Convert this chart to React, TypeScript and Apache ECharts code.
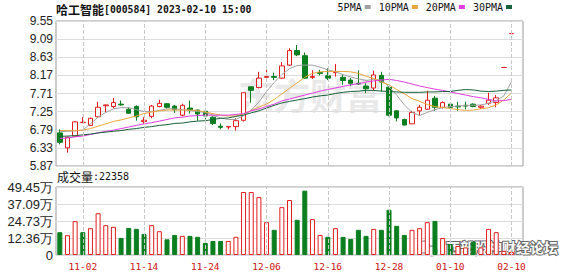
import React, { useEffect, useRef } from 'react';
import * as echarts from 'echarts';

// ---------- data ----------
const dates = [
  '2022-10-28','2022-10-31','2022-11-01','2022-11-02','2022-11-03','2022-11-04','2022-11-07','2022-11-08','2022-11-09','2022-11-10',
  '2022-11-11','2022-11-14','2022-11-15','2022-11-16','2022-11-17','2022-11-18','2022-11-21','2022-11-22','2022-11-23','2022-11-24',
  '2022-11-25','2022-11-28','2022-11-29','2022-11-30','2022-12-01','2022-12-02','2022-12-05','2022-12-06','2022-12-07','2022-12-08',
  '2022-12-09','2022-12-12','2022-12-13','2022-12-14','2022-12-15','2022-12-16','2022-12-19','2022-12-20','2022-12-21','2022-12-22',
  '2022-12-23','2022-12-26','2022-12-27','2022-12-28','2022-12-29','2022-12-30','2023-01-03','2023-01-04','2023-01-05','2023-01-06',
  '2023-01-09','2023-01-10','2023-01-11','2023-01-12','2023-01-13','2023-01-16','2023-01-17','2023-01-18','2023-02-09','2023-02-10',
];

const opens = [
  6.71,6.33,6.63,6.97,6.90,7.12,7.40,7.38,7.44,7.31,
  7.38,7.00,7.13,7.38,7.45,7.39,7.16,7.34,7.29,7.26,
  7.11,6.88,6.86,6.87,7.03,7.88,7.86,8.12,8.14,8.10,
  8.43,8.80,8.67,8.12,8.24,8.16,8.24,8.12,8.05,7.97,
  7.90,7.85,8.17,7.87,7.27,7.05,6.94,7.27,7.31,7.59,
  7.36,7.44,7.39,7.41,7.44,7.36,7.46,7.48,8.37,9.23,
];
const closes = [
  6.47,6.60,6.99,6.98,7.08,7.36,7.42,7.48,7.42,7.21,
  7.12,7.03,7.39,7.46,7.36,7.30,7.41,7.29,7.19,7.14,
  6.95,6.85,6.87,7.02,7.73,7.79,8.10,8.14,8.12,8.41,
  8.80,8.69,8.10,8.14,8.22,8.10,8.26,8.04,7.97,7.95,
  7.83,8.18,8.00,7.16,7.09,6.91,7.23,7.36,7.54,7.36,
  7.48,7.36,7.37,7.39,7.38,7.39,7.54,7.60,8.37,9.23,
];
const lows = [
  6.42,6.21,6.62,6.96,6.89,7.10,7.23,7.33,7.40,7.19,
  7.02,6.94,7.08,7.36,7.33,7.22,7.13,7.20,7.02,7.05,
  6.91,6.80,6.80,6.77,7.00,7.48,7.84,8.04,8.05,8.08,
  8.41,8.66,8.08,8.08,8.17,8.05,8.14,7.93,7.90,7.93,
  7.72,7.78,7.76,7.13,7.00,6.90,6.93,7.16,7.29,7.27,
  7.33,7.32,7.27,7.31,7.36,7.32,7.42,7.36,8.37,9.23,
];
const highs = [
  6.80,6.62,7.01,7.11,7.10,7.50,7.43,7.60,7.53,7.36,
  7.41,7.11,7.42,7.55,7.47,7.42,7.45,7.53,7.30,7.28,
  7.13,6.95,6.87,7.08,7.74,7.88,8.26,8.32,8.24,8.51,
  8.86,8.94,8.75,8.30,8.31,8.35,8.46,8.20,8.10,8.30,
  7.97,8.29,8.26,7.90,7.29,7.07,7.27,7.42,7.78,7.65,
  7.51,7.48,7.50,7.50,7.46,7.42,7.73,7.67,8.37,9.23,
];
// volume in 万
const volumes = [
  16.6,14.4,24.6,16.6,19.5,30.4,21.7,20.5,12.4,19.7,
  19.0,15.3,21.7,17.3,11.4,14.6,13.9,13.9,13.2,8.8,
  10.2,10.2,10.2,13.2,45.8,45.8,42.1,23.9,18.3,34.8,
  40.0,25.6,46.8,26.1,14.6,13.2,19.5,13.2,11.7,18.3,
  13.9,19.0,18.3,32.9,21.2,14.6,18.3,19.5,23.9,24.8,
  12.4,8.0,6.5,5.5,9.7,5.5,19.0,16.6,3.0,2.2358,
];
const ma5 = [
  6.74,6.75,6.76,6.78,6.94,7.11,7.23,7.32,7.35,7.35,
  7.30,7.25,7.25,7.28,7.32,7.32,7.30,7.28,7.25,7.23,
  7.16,7.09,7.05,7.05,7.15,7.29,7.49,7.76,7.99,8.19,
  8.34,8.42,8.43,8.43,8.38,8.31,8.26,8.19,8.13,8.08,
  8.04,8.07,8.05,7.88,7.67,7.42,7.23,7.15,7.23,7.30,
  7.35,7.38,7.39,7.41,7.41,7.42,7.46,7.53,7.65,8.01,
];
const ma10 = [
  6.77,6.77,6.77,6.78,6.82,6.88,6.94,7.00,7.04,7.09,
  7.14,7.20,7.24,7.27,7.29,7.29,7.29,7.29,7.28,7.24,
  7.20,7.16,7.14,7.14,7.19,7.27,7.37,7.44,7.56,7.70,
  7.84,7.98,8.12,8.22,8.26,8.27,8.27,8.27,8.26,8.22,
  8.15,8.09,8.00,7.93,7.81,7.70,7.58,7.51,7.43,7.38,
  7.35,7.33,7.30,7.28,7.29,7.32,7.35,7.42,7.55,7.72,
];
const ma20 = [
  6.57,6.58,6.61,6.63,6.67,6.71,6.75,6.78,6.82,6.86,
  6.90,6.94,6.97,7.01,7.05,7.09,7.11,7.14,7.15,7.16,
  7.16,7.16,7.16,7.18,7.20,7.27,7.32,7.38,7.44,7.52,
  7.57,7.62,7.67,7.72,7.77,7.81,7.85,7.89,7.93,7.96,
  8.00,8.03,8.05,8.07,8.04,8.00,7.95,7.90,7.86,7.82,
  7.79,7.75,7.71,7.67,7.63,7.60,7.56,7.52,7.53,7.56,
];
const ma30 = [
  6.62,6.63,6.64,6.66,6.68,6.71,6.73,6.75,6.77,6.80,
  6.82,6.85,6.87,6.90,6.92,6.95,6.96,6.99,7.01,7.02,
  7.05,7.08,7.09,7.13,7.16,7.22,7.27,7.34,7.41,7.47,
  7.51,7.545,7.58,7.62,7.65,7.67,7.71,7.74,7.76,7.77,
  7.79,7.79,7.77,7.76,7.75,7.74,7.74,7.74,7.75,7.75,
  7.76,7.76,7.79,7.81,7.80,7.77,7.76,7.77,7.79,7.80,
];

const priceTickLabels = ['5.87','6.33','6.79','7.25','7.71','8.17','8.63','9.09','9.55'];
const volumeTickLabels = ['0','12.36万','24.73万','37.09万','49.45万'];
const dateTickLabels = ['11-02','11-14','11-24','12-06','12-16','12-28','01-10','02-10'];
const stockTitle = '哈工智能';
const stockCode = '[000584] 2023-02-10 15:00';
const volumeLabel = '成交量';
const lastVolume = '22358';

// ---------- styles ----------
const RED = '#e41c1c';
const GREEN = '#0b7f1f';
const MA_COLORS = ['#a0a0a0', '#e9a63a', '#e03ce0', '#17603a'];
const MONO = '"DejaVu Sans Mono", monospace';
const CJK = '"Noto Sans CJK SC", sans-serif';
const SANS = '"Liberation Sans", Arial, sans-serif';

export default function App() {
  const ref = useRef<HTMLDivElement>(null);

  useEffect(() => {
    if (!ref.current) return;
    const chart = echarts.init(ref.current, undefined, { renderer: 'svg' });

    const axisData = [...dates, ''];
    const isTick = (d: string) => dateTickLabels.includes(d.slice(5));
    const tickDates = dates.filter(isTick);

    const candleData = opens.map((o, i) => [o, closes[i], lows[i], highs[i]]);
    const volData = volumes.map((v, i) => {
      const up = i === 0 ? closes[i] >= opens[i] : closes[i] >= closes[i - 1];
      return {
        value: v,
        itemStyle: up
          ? { color: '#ffffff', borderColor: RED, borderWidth: 1 }
          : { color: GREEN, borderColor: GREEN, borderWidth: 1 },
      };
    });

    const vLines = {
      silent: true,
      symbol: ['none', 'none'],
      label: { show: false },
      lineStyle: { color: '#c8c8c8', type: 'dashed', width: 1 },
      data: tickDates.map((d) => ({ xAxis: d })),
    };

    const findLabel = (labels: string[], v: number) =>
      labels.find((l) => Math.abs(parseFloat(l) - v) < 0.01) ?? '';

    const maNames = ['5PMA', '10PMA', '20PMA', '30PMA'];
    const maData = [ma5, ma10, ma20, ma30];

    const option: any = {
      animation: false,
      backgroundColor: '#ffffff',
      title: {
        text: `{a|${stockTitle}}{b|${stockCode}}`,
        left: 56,
        top: 1,
        padding: 0,
        textStyle: {
          rich: {
            a: { fontSize: 12, fontFamily: CJK, color: '#111', lineHeight: 16 },
            b: { fontSize: 9.8, fontFamily: MONO, color: '#111', lineHeight: 16 },
          },
        },
      },
      legend: {
        data: maNames,
        right: 66,
        top: 2,
        align: 'right',
        icon: 'rect',
        itemWidth: 6,
        itemHeight: 4,
        itemGap: 8,
        selectedMode: false,
        padding: 0,
        textStyle: { fontFamily: MONO, fontSize: 10, color: '#111', padding: [0, -2, 0, 0] },
      },
      grid: [
        { left: 56, top: 21, width: 467, height: 145, show: true, borderColor: '#9a9a9a', borderWidth: 1 },
        { left: 56, top: 187, width: 467, height: 68, show: true, borderColor: '#9a9a9a', borderWidth: 1 },
      ],
      xAxis: [
        {
          type: 'category', gridIndex: 0, data: axisData, boundaryGap: true,
          axisLine: { show: false }, axisTick: { show: false }, axisLabel: { show: false }, splitLine: { show: false },
        },
        {
          type: 'category', gridIndex: 1, data: axisData, boundaryGap: true,
          axisLine: { show: false }, axisTick: { show: false }, splitLine: { show: false },
          axisLabel: {
            interval: (_i: number, v: string) => isTick(v),
            formatter: (v: string) => v.slice(5),
            color: '#cc1111', fontFamily: MONO, fontSize: 9.5, margin: 6,
          },
        },
      ],
      yAxis: [
        {
          type: 'value', gridIndex: 0, min: 5.87, max: 9.55, interval: 0.46,
          axisLine: { show: false }, axisTick: { show: false },
          splitLine: { show: true, lineStyle: { color: '#dcdcdc', width: 1 } },
          axisLabel: {
            formatter: (v: number) => findLabel(priceTickLabels, v),
            fontFamily: SANS, fontSize: 12, color: '#222', margin: 3,
          },
        },
        {
          type: 'value', gridIndex: 1, min: 0, max: 49.45, interval: 12.3625,
          axisLine: { show: false }, axisTick: { show: false },
          splitLine: { show: true, lineStyle: { color: '#dcdcdc', width: 1 } },
          axisLabel: {
            formatter: (v: number) => findLabel(volumeTickLabels, v),
            fontFamily: SANS, fontSize: 13, color: '#222', margin: 3,
          },
        },
      ],
      graphic: [
        {
          type: 'text', z: -10, left: 238, top: 76, silent: true,
          style: { text: '东方财富', fontSize: 36, fontWeight: 'bold', fontFamily: CJK, fill: '#e9e9e9' },
        },
        {
          type: 'text', left: 57, top: 170, silent: true,
          style: {
            text: `{a|${volumeLabel}}{b|:${lastVolume}}`,
            rich: {
              a: { fontSize: 12, fontFamily: CJK, fill: '#111', lineHeight: 16 },
              b: { fontSize: 10, fontFamily: MONO, fill: '#111', lineHeight: 16 },
            },
          },
        },
        {
          type: 'group', z: 100, silent: true,
          children: [
            { type: 'circle', shape: { cx: 424, cy: 247, r: 6 }, style: { fill: '#fff', stroke: '#777', lineWidth: 1 } },
            { type: 'circle', shape: { cx: 432, cy: 251, r: 5 }, style: { fill: '#fff', stroke: '#777', lineWidth: 1 } },
            {
              type: 'text', x: 446, y: 240,
              style: {
                text: '西部股神财经论坛', fontSize: 14, fontWeight: 'bold', fontFamily: CJK,
                fill: '#ffffff', stroke: '#666', lineWidth: 2,
              },
            },
          ],
        },
      ],
      series: [
        {
          type: 'candlestick', name: 'K', xAxisIndex: 0, yAxisIndex: 0, data: candleData, barWidth: 5,
          itemStyle: { color: '#ffffff', color0: GREEN, borderColor: RED, borderColor0: GREEN, borderWidth: 1 },
          markLine: vLines,
        },
        ...maNames.map((n, k) => ({
          type: 'line', name: n, xAxisIndex: 0, yAxisIndex: 0, data: maData[k],
          symbol: 'none', showSymbol: false, smooth: false,
          itemStyle: { color: MA_COLORS[k] },
          lineStyle: { color: MA_COLORS[k], width: 1 },
        })),
        {
          type: 'bar', name: 'VOL', xAxisIndex: 1, yAxisIndex: 1, data: volData, barWidth: 5,
          markLine: vLines,
        },
      ],
    };

    chart.setOption(option);
    return () => chart.dispose();
  }, []);

  return (
    <div
      ref={ref}
      style={{ position: 'absolute', left: 0, top: 0, width: 578, height: 276, background: '#fff' }}
    />
  );
}
